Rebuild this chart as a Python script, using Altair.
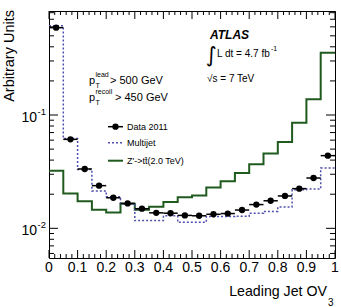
import altair as alt
import pandas as pd

# ---- histogram contents (20 bins of width 0.05 on [0, 1]) ----
bin_edges = [0.0, 0.05, 0.1, 0.15, 0.2, 0.25, 0.3, 0.35, 0.4, 0.45, 0.5,
             0.55, 0.6, 0.65, 0.7, 0.75, 0.8, 0.85, 0.9, 0.95, 1.0]
data_2011 = [0.590, 0.061, 0.0334, 0.0238, 0.0186, 0.0166, 0.0149, 0.0137,
             0.0136, 0.0130, 0.0129, 0.0133, 0.0135, 0.0145, 0.0162, 0.0175,
             0.0193, 0.0224, 0.0278, 0.0438]
multijet = [0.614, 0.062, 0.0330, 0.0214, 0.0190, 0.0165, 0.0117, 0.0117,
            0.0129, 0.0113, 0.0113, 0.0127, 0.0127, 0.0128, 0.0136, 0.0141,
            0.0154, 0.0219, 0.0222, 0.0340]
zprime = [0.0322, 0.0203, 0.0173, 0.0146, 0.0138, 0.0165, 0.0146, 0.0155,
          0.0171, 0.0188, 0.0195, 0.0229, 0.0260, 0.0308, 0.0368, 0.0458,
          0.0578, 0.0855, 0.138, 0.355]

# ---- axis ticks and tick labels ----
x_major = [0.0, 0.1, 0.2, 0.3, 0.4, 0.5, 0.6, 0.7, 0.8, 0.9, 1.0]
x_labels = ["0", "0.1", "0.2", "0.3", "0.4", "0.5", "0.6", "0.7", "0.8", "0.9", "1"]
x_minor = [0.02, 0.04, 0.06, 0.08, 0.12, 0.14, 0.16, 0.18, 0.22, 0.24, 0.26,
           0.28, 0.32, 0.34, 0.36, 0.38, 0.42, 0.44, 0.46, 0.48, 0.52, 0.54,
           0.56, 0.58, 0.62, 0.64, 0.66, 0.68, 0.72, 0.74, 0.76, 0.78, 0.82,
           0.84, 0.86, 0.88, 0.92, 0.94, 0.96, 0.98]
y_major = [0.01, 0.1]
y_minor = [0.006, 0.007, 0.008, 0.009, 0.02, 0.03, 0.04, 0.05, 0.06, 0.07,
           0.08, 0.09, 0.2, 0.3, 0.4, 0.5, 0.6, 0.7, 0.8]
y_label_text = ["10", "10"]
y_label_exp = ["-2", "-1"]

W, H = 286, 247
FONT = "Liberation Sans"
GREEN = "#1f5a1f"
BLUE = "#4f4fb0"

xs = alt.Scale(domain=[0, 1], nice=False, zero=False)
ys = alt.Scale(type="log", domain=[0.00547, 0.828], nice=False)


def step_frame(values):
    return pd.DataFrame({"x": bin_edges, "y": values + [values[-1]]})


pts = pd.DataFrame({
    "lo": bin_edges[:-1],
    "hi": bin_edges[1:],
    "c": [(a + b) / 2 for a, b in zip(bin_edges[:-1], bin_edges[1:])],
    "v": data_2011,
})

zp_line = alt.Chart(step_frame(zprime)).mark_line(
    interpolate="step-after", color=GREEN, strokeWidth=2
).encode(
    x=alt.X("x:Q", scale=xs, axis=None),
    y=alt.Y("y:Q", scale=ys, axis=None),
)

mj_line = alt.Chart(step_frame(multijet)).mark_line(
    interpolate="step-after", color=BLUE, strokeWidth=1.5, strokeDash=[2, 2]
).encode(
    x=alt.X("x:Q", scale=xs, axis=None),
    y=alt.Y("y:Q", scale=ys, axis=None),
)

err = alt.Chart(pts).mark_rule(color="black", strokeWidth=1.5).encode(
    x=alt.X("lo:Q", scale=xs, axis=None),
    x2="hi:Q",
    y=alt.Y("v:Q", scale=ys, axis=None),
)
dots = alt.Chart(pts).mark_circle(color="black", size=40, opacity=1).encode(
    x=alt.X("c:Q", scale=xs, axis=None),
    y=alt.Y("v:Q", scale=ys, axis=None),
)


def xticks(vals, length):
    df = pd.DataFrame({"t": vals})
    bottom = alt.Chart(df).mark_rule(color="black", strokeWidth=1).encode(
        x=alt.X("t:Q", scale=xs, axis=None), y=alt.value(H), y2=alt.value(H - length))
    top = alt.Chart(df).mark_rule(color="black", strokeWidth=1).encode(
        x=alt.X("t:Q", scale=xs, axis=None), y=alt.value(0), y2=alt.value(length))
    return [bottom, top]


def yticks(vals, length):
    df = pd.DataFrame({"t": vals})
    left = alt.Chart(df).mark_rule(color="black", strokeWidth=1).encode(
        y=alt.Y("t:Q", scale=ys, axis=None), x=alt.value(0), x2=alt.value(length))
    right = alt.Chart(df).mark_rule(color="black", strokeWidth=1).encode(
        y=alt.Y("t:Q", scale=ys, axis=None), x=alt.value(W - length), x2=alt.value(W))
    return [left, right]


tick_layers = xticks(x_major, 8) + xticks(x_minor, 4) + yticks(y_major, 9) + yticks(y_minor, 5)

xlab_df = pd.DataFrame({"t": x_major, "lab": x_labels})
xlab = alt.Chart(xlab_df).mark_text(
    font=FONT, fontSize=14, align="center", baseline="alphabetic", color="black"
).encode(x=alt.X("t:Q", scale=xs, axis=None), y=alt.value(H + 14), text="lab:N")

ylab_df = pd.DataFrame({"t": y_major, "base": y_label_text, "exp": y_label_exp})
ylab_base = alt.Chart(ylab_df).mark_text(
    font=FONT, fontSize=14, align="right", baseline="alphabetic", dy=6.5, color="black"
).encode(y=alt.Y("t:Q", scale=ys, axis=None), x=alt.value(-12), text="base:N")
ylab_exp = alt.Chart(ylab_df).mark_text(
    font=FONT, fontSize=9.5, align="left", baseline="alphabetic", dy=-0.5, color="black"
).encode(y=alt.Y("t:Q", scale=ys, axis=None), x=alt.value(-11.5), text="exp:N")

one = pd.DataFrame({"k": [0]})


def label(txt, x, y, size, align="left", baseline="alphabetic", **kw):
    return alt.Chart(one).mark_text(
        font=kw.pop("font", FONT), fontSize=size, align=align, baseline=baseline,
        color=kw.pop("color", "black"), **kw
    ).encode(x=alt.value(x), y=alt.value(y), text=alt.value(txt))


texts = [
    # axis titles
    label("Arbitrary Units", -35, -1, 14.5, align="right", angle=270),
    label("Leading Jet OV", 278, 285, 14.2, align="right"),
    label("3", 279, 295, 10),
    # experiment info
    label("ATLAS", 161, 27.5, 12, fontWeight="bold", fontStyle="italic"),
    label("\u222b", 157, 51, 21, font="DejaVu Sans"),
    label("L dt = 4.7 fb", 168, 46, 10),
    label("-1", 222, 40, 7),
    label("\u221as = 7 TeV", 158, 70.5, 10),
    # selection cuts
    label("p", 40, 72.5, 11),
    label("T", 46.5, 76.5, 7),
    label("lead", 46.5, 66, 7),
    label("> 500 GeV", 61, 72.5, 11),
    label("p", 40, 89.5, 11),
    label("T", 46.5, 93.5, 7),
    label("recoil", 46.5, 83, 7),
    label("> 450 GeV", 66, 89.5, 11),
    # legend entries
    label("Data 2011", 78, 115.7, 9, baseline="middle"),
    label("Multijet", 78, 131.7, 9, baseline="middle"),
    label("Z'->t\u0074\u0304(2.0 TeV)", 78, 149.7, 9, baseline="middle"),
]

legend_marks = [
    alt.Chart(one).mark_rule(color="black", strokeWidth=1.5).encode(
        x=alt.value(59), x2=alt.value(74), y=alt.value(115.7)),
    alt.Chart(one).mark_circle(color="black", size=40, opacity=1).encode(
        x=alt.value(66.5), y=alt.value(115.7)),
    alt.Chart(one).mark_rule(color=BLUE, strokeWidth=1.5, strokeDash=[2, 2]).encode(
        x=alt.value(59), x2=alt.value(74), y=alt.value(131.7)),
    alt.Chart(one).mark_rule(color=GREEN, strokeWidth=2).encode(
        x=alt.value(59), x2=alt.value(74), y=alt.value(149.7)),
]

chart = alt.layer(
    zp_line, mj_line, err, dots, *tick_layers, xlab, ylab_base, ylab_exp,
    *texts, *legend_marks
).properties(
    width=W, height=H,
    autosize=alt.AutoSizeParams(type="none"),
    padding={"left": 49, "top": 11, "right": 6, "bottom": 49},
    background="white",
).configure_view(
    stroke="black", strokeWidth=1
)

chart.save("out.html", embed_options={"renderer": "svg", "actions": False})
